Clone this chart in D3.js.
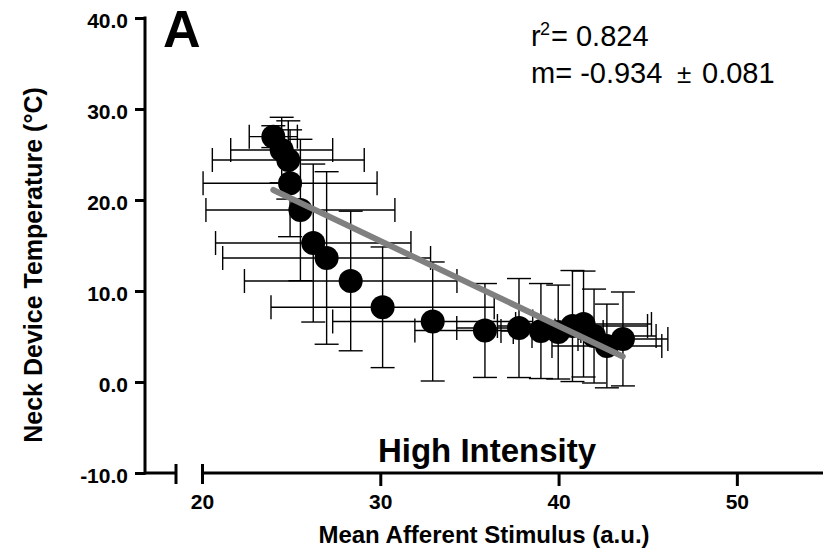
<!DOCTYPE html>
<html><head><meta charset="utf-8">
<script src="https://cdn.jsdelivr.net/npm/d3@7"></script>
<style>
body{margin:0;background:#fff}
svg{display:block}
text{font-family:Arial,"Liberation Sans",Helvetica,sans-serif}
</style>
</head><body>
<svg id="chart" width="823" height="553"></svg>
<script>
// ---- data ----
const stimulus       = [24.00,24.47,24.84,24.94,25.52,26.24,26.99,28.34,30.13,32.94,35.87,37.78,39.01,39.98,40.78,41.40,41.99,42.71,43.61];
const temperature    = [26.96,25.49,24.40,21.84,18.90,15.27,13.63,11.10,8.21,6.65,5.66,5.93,5.60,5.49,6.15,6.37,5.05,3.96,4.73];
const stimulusErr    = [1.35,2.86,4.26,4.88,5.30,5.48,5.83,5.96,6.26,5.61,3.93,3.49,2.24,2.52,4.21,3.81,3.48,3.08,2.52];
const temperatureErr = [1.2,3.6,4.3,5.87,7.77,8.68,9.48,7.67,6.63,6.54,5.16,5.44,5.22,5.16,6.1,5.82,5.16,4.6,5.16];
const fitStimulus    = [24.0, 43.6];
const fitTemperature = [21.1, 2.8];
const xTicks = [20,30,40,50];
const yTicks = [-10,0,10,20,30,40];
const xTitle = "Mean Afferent Stimulus (a.u.)";
const yTitle = "Neck Device Temperature (\u00B0C)";
const panelLabel = "A";
const condition = "High Intensity";
const r2Text = "0.824";
const slopeText = "-0.934";
const slopeErrText = "0.081";

const points = stimulus.map((s,i)=>({x:s,y:temperature[i],ex:stimulusErr[i],ey:temperatureErr[i]}));

const svg = d3.select("#chart");
const axisX = 145;           // y-axis position
const x = d3.scaleLinear().domain([20,55]).range([202, 826]);
const y = d3.scaleLinear().domain([-10,40]).range([473, 18]);
const y0 = y(-10);

// ---- y axis ----
const gy = svg.append("g").attr("transform",`translate(${axisX},0)`)
  .call(d3.axisLeft(y).tickValues(yTicks).tickFormat(d=>d.toFixed(1)).tickSize(10).tickPadding(7));
gy.select(".domain").remove();
gy.selectAll(".tick line").attr("stroke","#000").attr("stroke-width",3);
gy.selectAll(".tick text").attr("font-size",21).attr("font-weight","bold").attr("fill","#000")
  .attr("dy","0.47em").style("font-family","Arial,'Liberation Sans',sans-serif");
svg.append("line").attr("x1",axisX).attr("x2",axisX).attr("y1",y(40)-1.5).attr("y2",y0+1.5)
  .attr("stroke","#000").attr("stroke-width",3);

// ---- x axis (broken) ----
const breakX = x(20) - 26;
svg.append("line").attr("x1",axisX).attr("x2",breakX).attr("y1",y0).attr("y2",y0).attr("stroke","#000").attr("stroke-width",3);
svg.append("line").attr("x1",breakX).attr("x2",breakX).attr("y1",y0-9).attr("y2",y0+11).attr("stroke","#000").attr("stroke-width",3);
const gx = svg.append("g").attr("transform",`translate(0,${y0})`)
  .call(d3.axisBottom(x).tickValues(xTicks).tickFormat(d=>String(d)).tickSize(13).tickPadding(8));
gx.select(".domain").remove();
svg.append("line").attr("x1",x(20)).attr("x2",x(55)).attr("y1",y0).attr("y2",y0).attr("stroke","#000").attr("stroke-width",3);
gx.selectAll(".tick line").attr("stroke","#000").attr("stroke-width",3)
  .attr("y1",d=>d===20?-9:0).attr("y2",d=>d===20?11:13);
gx.selectAll(".tick text").attr("font-size",21).attr("font-weight","bold").attr("fill","#000")
  .style("font-family","Arial,'Liberation Sans',sans-serif");

// ---- error bars ----
const cap = 12;
const eb = svg.append("g").attr("stroke","#000").attr("stroke-width",1.4).attr("fill","none");
points.forEach(p=>{
  const cx = x(p.x), cy = y(p.y);
  const xl = x(p.x-p.ex), xr = x(p.x+p.ex);
  const yt = y(p.y+p.ey), yb = y(p.y-p.ey);
  eb.append("line").attr("x1",xl).attr("x2",xr).attr("y1",cy).attr("y2",cy);
  eb.append("line").attr("x1",xl).attr("x2",xl).attr("y1",cy-cap).attr("y2",cy+cap);
  eb.append("line").attr("x1",xr).attr("x2",xr).attr("y1",cy-cap).attr("y2",cy+cap);
  eb.append("line").attr("x1",cx).attr("x2",cx).attr("y1",yt).attr("y2",yb);
  eb.append("line").attr("x1",cx-cap).attr("x2",cx+cap).attr("y1",yt).attr("y2",yt);
  eb.append("line").attr("x1",cx-cap).attr("x2",cx+cap).attr("y1",yb).attr("y2",yb);
});

// ---- dots ----
svg.append("g").selectAll("circle").data(points).join("circle")
  .attr("cx",d=>x(d.x)).attr("cy",d=>y(d.y)).attr("r",12).attr("fill","#000");

// ---- regression line ----
svg.append("line")
  .attr("x1",x(fitStimulus[0])).attr("y1",y(fitTemperature[0]))
  .attr("x2",x(fitStimulus[1])).attr("y2",y(fitTemperature[1]))
  .attr("stroke","#808080").attr("stroke-width",6).attr("stroke-linecap","round");

// ---- texts ----
svg.append("text").attr("x",163).attr("y",47).attr("font-size",52).attr("font-weight","bold").text(panelLabel);

const t1 = svg.append("text").attr("x",531).attr("y",46).attr("font-size",29);
t1.append("tspan").text("r");
t1.append("tspan").attr("x",540).attr("y",35).attr("font-size",18).text("2");
t1.append("tspan").attr("x",551).attr("y",46).text("= " + r2Text);

const t2 = svg.append("text").attr("x",531).attr("y",83).attr("font-size",29);
t2.append("tspan").text("m= " + slopeText);
t2.append("tspan").attr("x",677).attr("font-size",26).text("\u00B1");
t2.append("tspan").attr("x",702).text(slopeErrText);

svg.append("text").attr("x",487).attr("y",462).attr("text-anchor","middle")
  .attr("font-size",33).attr("font-weight","bold").text(condition);

svg.append("text").attr("x",484).attr("y",543).attr("text-anchor","middle")
  .attr("font-size",24).attr("font-weight","bold").text(xTitle);

svg.append("text").attr("transform","translate(42,265) rotate(-90)").attr("text-anchor","middle")
  .attr("font-size",25).attr("font-weight","bold").text(yTitle);
</script>
</body></html>
